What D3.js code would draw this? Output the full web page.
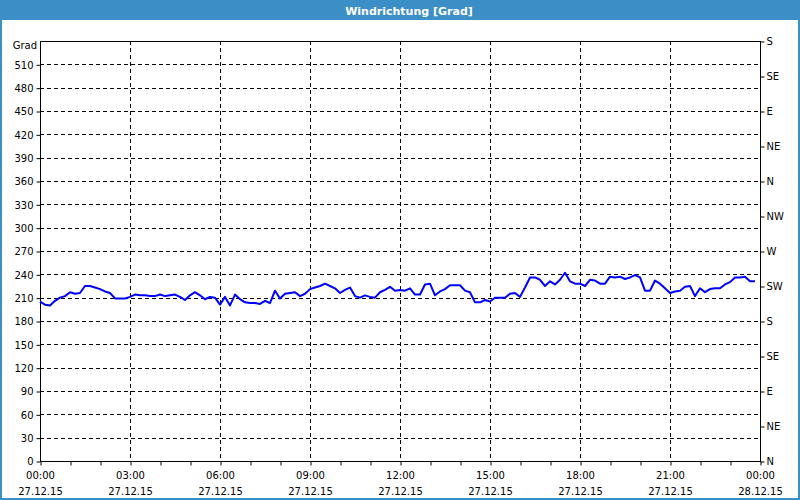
<!DOCTYPE html>
<html><head><meta charset="utf-8">
<script src="https://cdn.jsdelivr.net/npm/d3@7"></script>
<style>
html,body{margin:0;padding:0;background:#fff;}
svg{display:block;font-family:"DejaVu Sans",Tahoma,sans-serif;}
</style></head>
<body>
<svg id="chart" width="800" height="500"></svg>
<script>
// ---- data (10-minute samples, 27.12.15 00:00 onward) ----
const startTime = "2015-12-27T00:00:00";
const stepMinutes = 10;
const direction = [
 205,201,200,206,210,212,217,215,216,225,225,223,221,218,216,209,209,209,211,214,
 213,213,212,212,214,212,213,214,211,207,213,217,213,208,211,210,201,211,200,214,
 208,204,203,203,202,206,203,219,209,215,216,217,212,215,221,223,225,228,225,222,
 216,220,223,212,210,213,211,210,217,220,224,219,220,219,222,214,214,227,228,213,
 218,221,226,226,226,219,217,204,204,207,205,210,210,210,215,216,211,223,236,236,
 233,225,231,227,233,242,231,228,228,225,233,232,228,228,237,236,237,234,236,239,
 236,219,219,232,228,222,216,218,219,224,225,212,222,217,221,222,222,227,230,236,
 236,237,231,231
];
const yTicks = [0,30,60,90,120,150,180,210,240,270,300,330,360,390,420,450,480,510];
const compassTicks = [0,45,90,135,180,225,270,315,360,405,450,495,540];
const compassLabels = ["N","NE","E","SE","S","SW","W","NW","N","NE","E","SE","S"];
const xTickTimes = ["00:00","03:00","06:00","09:00","12:00","15:00","18:00","21:00","00:00"];
const xTickDates = ["27.12.15","27.12.15","27.12.15","27.12.15","27.12.15","27.12.15","27.12.15","27.12.15","28.12.15"];
const title = "Windrichtung [Grad]";
const unit = "Grad";

// ---- layout ----
const W = 800, H = 500;
const L = 40, R = 760, T = 41, B = 461;
const svg = d3.select("#chart");

const t0 = new Date(startTime);
const t1 = d3.timeDay.offset(t0, 1);
const x = d3.scaleTime().domain([t0, t1]).range([L, R]);
const y = d3.scaleLinear().domain([0, 540]).range([B, T]);

// frame and title bar
svg.append("rect").attr("x",0).attr("y",0).attr("width",W).attr("height",H).attr("fill","#fff");
svg.append("rect").attr("x",1).attr("y",1).attr("width",W-2).attr("height",H-2)
  .attr("fill","none").attr("stroke","#3c8fc6").attr("stroke-width",2);
svg.append("rect").attr("x",0).attr("y",0).attr("width",W).attr("height",20).attr("fill","#3c8fc6");
svg.append("text").attr("x",409).attr("y",14.5).attr("text-anchor","middle")
  .attr("fill","#fff").attr("font-weight","bold").attr("font-size",11).text(title);

// grid
const grid = svg.append("g").attr("stroke","#000").attr("stroke-dasharray","4,3").attr("shape-rendering","crispEdges");
grid.selectAll("line.h").data(yTicks.filter(v=>v>0)).join("line")
  .attr("x1",L).attr("x2",R).attr("y1",d=>Math.round(y(d))+0.5).attr("y2",d=>Math.round(y(d))+0.5);
const gridTimes = d3.range(1,8).map(i=>d3.timeHour.offset(t0, i*3));
grid.selectAll("line.v").data(gridTimes).join("line")
  .attr("y1",T).attr("y2",B).attr("x1",d=>Math.round(x(d))+0.5).attr("x2",d=>Math.round(x(d))+0.5);

// left axis
const yAxis = d3.axisLeft(y).tickValues(yTicks).tickSize(4).tickPadding(3).tickFormat(d3.format("d"));
const gy = svg.append("g").attr("transform",`translate(${L+0.5},0.5)`).call(yAxis);
gy.select(".domain").remove();
gy.selectAll("text").attr("font-size",10).attr("fill","#000").attr("font-family","DejaVu Sans");
svg.append("text").attr("x",L-3).attr("y",y(540)+8).attr("text-anchor","end")
  .attr("font-size",10).text(unit);

// right axis
const rAxis = d3.axisRight(y).tickValues(compassTicks).tickSize(4).tickPadding(2)
  .tickFormat((d,i)=>compassLabels[i]);
const gr = svg.append("g").attr("transform",`translate(${R+0.5},0.5)`).call(rAxis);
gr.select(".domain").remove();
gr.selectAll("text").attr("font-size",10).attr("fill","#000").attr("font-family","DejaVu Sans");

// bottom axis
const hours = d3.range(0,25).map(i=>d3.timeHour.offset(t0,i));
const xAxis = d3.axisBottom(x).tickValues(hours).tickSize(4).tickFormat("");
const gx = svg.append("g").attr("transform",`translate(0.5,${B+0.5})`).call(xAxis);
gx.select(".domain").remove();
const labelTimes = d3.range(0,9).map(i=>d3.timeHour.offset(t0,i*3));
const xl = svg.append("g").attr("font-size",10).attr("text-anchor","middle");
xl.selectAll("text.t").data(labelTimes).join("text")
  .attr("x",d=>x(d)+0.5).attr("y",B+18).text((d,i)=>xTickTimes[i]);
xl.selectAll("text.d").data(labelTimes).join("text")
  .attr("x",d=>x(d)+0.5).attr("y",B+34).text((d,i)=>xTickDates[i]);

// plot frame
svg.append("rect").attr("x",L+0.5).attr("y",T+0.5).attr("width",R-L).attr("height",B-T)
  .attr("fill","none").attr("stroke","#000").attr("stroke-width",1).attr("shape-rendering","crispEdges");

// data line
const pts = direction.map((v,i)=>({t:d3.timeMinute.offset(t0,i*stepMinutes), v}));
const line = d3.line().x(d=>x(d.t)).y(d=>y(d.v));
svg.append("path").datum(pts).attr("d",line).attr("fill","none")
  .attr("stroke","#0000ff").attr("stroke-width",2).attr("stroke-linejoin","round");
</script>
</body></html>
